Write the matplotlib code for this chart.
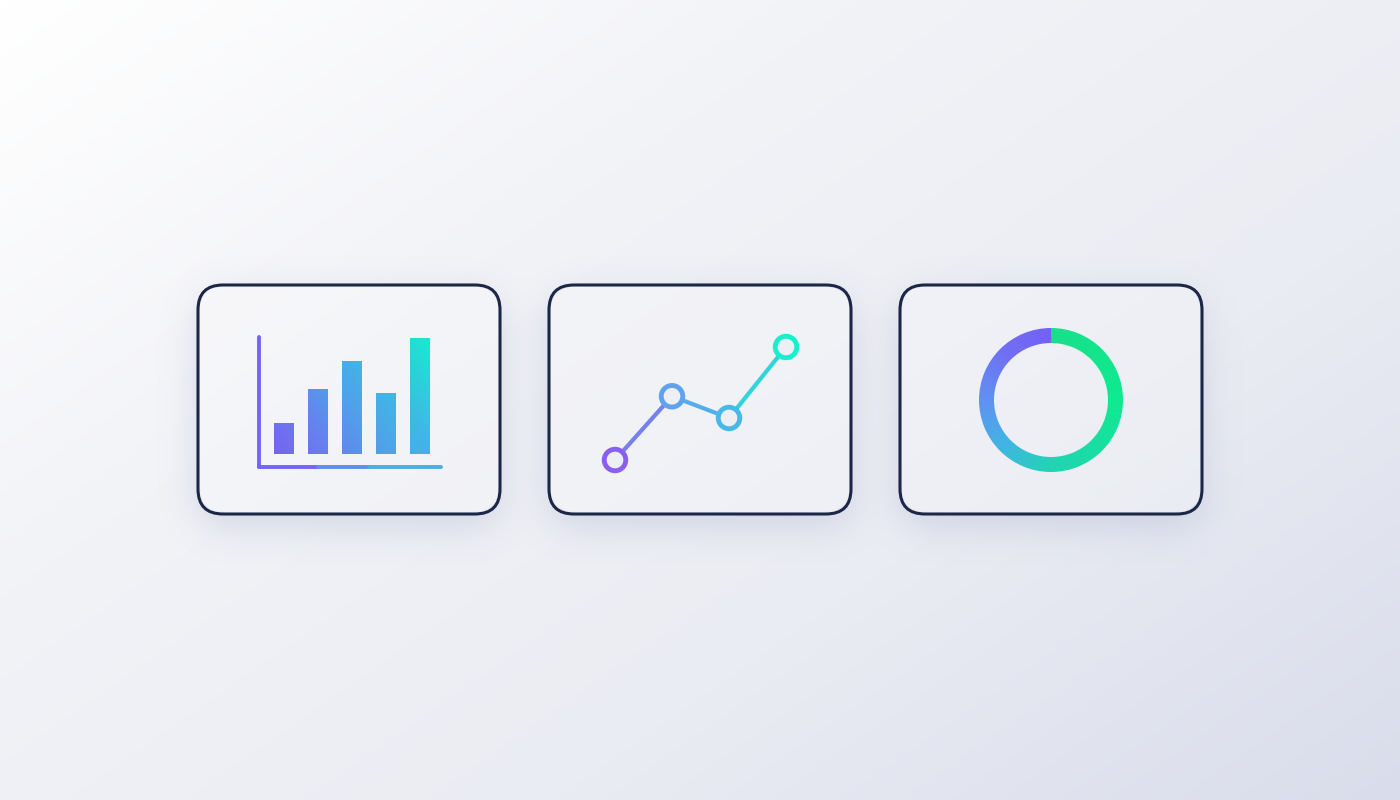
import numpy as np
import matplotlib
matplotlib.use("Agg")
import matplotlib.pyplot as plt
from matplotlib.patches import FancyBboxPatch
from matplotlib.collections import LineCollection
from matplotlib.colors import LinearSegmentedColormap, to_rgb

# ---------------- data ----------------
bar_categories = ["A", "B", "C", "D", "E"]
bar_values = [27, 56, 80, 53, 100]

line_labels = ["P1", "P2", "P3", "P4"]
line_values = [10, 32, 24.5, 49]

donut_values = [100]

# ---------------- layout / style ----------------
W, H = 1400, 800
fig = plt.figure(figsize=(14, 8), dpi=100)

def frac(x0, y0, x1, y1):
    return [x0 / W, 1 - y1 / H, (x1 - x0) / W, (y1 - y0) / H]

bg = fig.add_axes([0, 0, 1, 1])
bg.set_xlim(0, W)
bg.set_ylim(H, 0)
bg.axis("off")

# background gradient
gx, gy = np.meshgrid(np.linspace(0, 1, 350), np.linspace(0, 1, 200))
tb = 0.55 * gx + 0.45 * gy
bgcmap = LinearSegmentedColormap.from_list("bg", ["#ffffff", "#f2f3f7", "#eaecf3", "#d9ddeb"])
bg.imshow(tb, cmap=bgcmap, extent=(0, W, H, 0), aspect="auto",
          interpolation="bicubic", zorder=0)

cards = [(198, 285, 302, 229), (549, 285, 302, 229), (900, 285, 302, 229)]
radius = 25

# soft shadows (blurred mask, computed at half resolution), hidden under the cards
sc = 2
hh, ww = H // sc, W // sc
yy, xx = np.mgrid[0:hh, 0:ww] * sc + sc / 2

def rrect_mask(cx, cy, w, h, r):
    dx = np.maximum(np.abs(xx - cx) - (w / 2 - r), 0)
    dy = np.maximum(np.abs(yy - cy) - (h / 2 - r), 0)
    return (np.hypot(dx, dy) <= r).astype(float)

mask = np.zeros((hh, ww))
inside = np.zeros((hh, ww))
for (x0, y0, w, h) in cards:
    mask = np.maximum(mask, rrect_mask(x0 + w / 2, y0 + h / 2 + 12, w, h, radius))
    inside = np.maximum(inside, rrect_mask(x0 + w / 2, y0 + h / 2, w - 2, h - 2, radius))

def gauss_mat(n, sigma):
    i = np.arange(n)
    m = np.exp(-0.5 * ((i[:, None] - i[None, :]) / sigma) ** 2)
    return m / m.sum(axis=1, keepdims=True)

sig = 9
blur = gauss_mat(hh, sig) @ mask @ gauss_mat(ww, sig).T
shadow = np.zeros((hh, ww, 4))
shadow[..., :3] = np.array(to_rgb("#8e98bf"))
shadow[..., 3] = blur * 0.30 * (1 - inside)
bg.imshow(shadow, extent=(0, W, H, 0), aspect="auto", interpolation="bilinear", zorder=1)

card_face = "#edeff5"
for (x0, y0, w, h) in cards:
    p = FancyBboxPatch((x0, y0), w, h,
                       boxstyle=f"round,pad=0,rounding_size={radius}",
                       facecolor=(1, 1, 1, 0.2), edgecolor="#1c2647",
                       linewidth=2.2, zorder=2)
    bg.add_patch(p)

# ---------------- bar chart icon ----------------
bar_cmap = LinearSegmentedColormap.from_list(
    "bars", [(0, "#7b57ef"), (0.25, "#6b7af0"), (0.5, "#50a2ea"),
             (0.7, "#3dbbe4"), (1.0, "#12f3cc")])
ax1 = fig.add_axes(frac(259, 337, 441, 467))
xl, yl = (-0.72, 4.62), (-11.2, 100.9)
ax1.set_xlim(*xl)
ax1.set_ylim(*yl)
ax1.axis("off")
bars = ax1.bar(range(len(bar_values)), bar_values, width=0.56,
               color="none", edgecolor="none")
bx, by = np.meshgrid(np.linspace(0, 1, 200), np.linspace(0, 1, 200))
tbar = 0.65 * bx + 0.35 * by
for b in bars:
    im = ax1.imshow(tbar, cmap=bar_cmap, vmin=0, vmax=1, origin="lower",
                    extent=(xl[0], xl[1], yl[0], yl[1]), aspect="auto",
                    interpolation="bilinear", zorder=2)
    im.set_clip_path(b)
ax1.set_xlim(*xl)
ax1.set_ylim(*yl)

# axis lines (gradient)
axis_segs = [[(xl[0], yl[0]), (xl[0], yl[1])]]
lc_v = LineCollection(axis_segs, colors=["#7565f0"], linewidths=2.8,
                      capstyle="round", clip_on=False, zorder=3)
ax1.add_collection(lc_v)
h_segs = [[(xl[0], yl[0]), (1.0, yl[0])], [(1.0, yl[0]), (2.5, yl[0])],
          [(2.5, yl[0]), (xl[1], yl[0])]]
lc_h = LineCollection(h_segs, colors=[bar_cmap(0.1), bar_cmap(0.38), bar_cmap(0.6)],
                      linewidths=2.8, capstyle="round", clip_on=False, zorder=3)
ax1.add_collection(lc_h)

# ---------------- line chart icon ----------------
line_cmap = LinearSegmentedColormap.from_list(
    "line", [(0, "#8a5ff0"), (0.33, "#5fa3ee"), (0.67, "#48b8e8"), (1.0, "#18efcc")])
ax2 = fig.add_axes(frac(615, 347, 786, 460))
lx = np.arange(len(line_values))
ax2.set_xlim(0, len(line_values) - 1)
ax2.set_ylim(min(line_values), max(line_values))
ax2.axis("off")
pts = np.column_stack([lx, line_values])
segs = [[pts[i], pts[i + 1]] for i in range(len(pts) - 1)]
seg_cols = [line_cmap((i + 0.5) / (len(pts) - 1)) for i in range(len(segs))]
lc = LineCollection(segs, colors=seg_cols, linewidths=3.0, capstyle="round",
                    clip_on=False, zorder=2)
ax2.add_collection(lc)
ax2.scatter(lx, line_values, s=240, facecolors=card_face,
            edgecolors=[line_cmap(i / (len(lx) - 1)) for i in lx],
            linewidths=3.5, clip_on=False, zorder=3)

# ---------------- donut icon ----------------
ring_cmap = LinearSegmentedColormap.from_list(
    "ring", [(0, "#18e08a"), (0.25, "#0fea90"), (0.5, "#22d4b4"),
             (0.625, "#40b6e2"), (0.75, "#6092f2"), (0.875, "#7070f5"),
             (1.0, "#7460f4")])
ax3 = fig.add_axes(frac(1051 - 72, 400 - 72, 1051 + 72, 400 + 72))
wedges, _ = ax3.pie(donut_values, radius=1, startangle=90, counterclock=False,
                    wedgeprops=dict(width=15 / 72, facecolor="none", edgecolor="none"))
ax3.set_xlim(-1, 1)
ax3.set_ylim(-1, 1)
ax3.set_aspect("equal")
ax3.axis("off")
cx_, cy_ = np.meshgrid(np.linspace(-1, 1, 400), np.linspace(-1, 1, 400))
ang = (np.arctan2(cx_, cy_) % (2 * np.pi)) / (2 * np.pi)
for wdg in wedges:
    im = ax3.imshow(ang, cmap=ring_cmap, vmin=0, vmax=1, origin="lower",
                    extent=(-1, 1, -1, 1), interpolation="bilinear", zorder=2)
    im.set_clip_path(wdg)
ax3.set_xlim(-1, 1)
ax3.set_ylim(-1, 1)

fig.savefig("out.png", dpi=100)
